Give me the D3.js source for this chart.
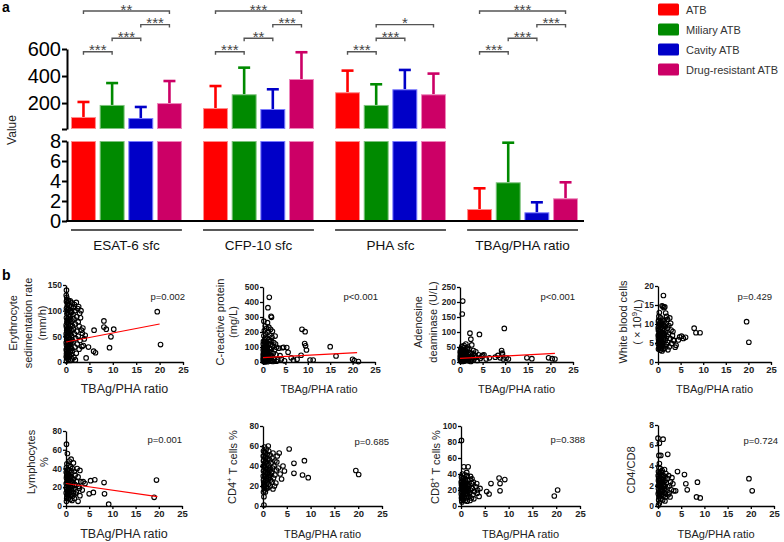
<!DOCTYPE html>
<html><head><meta charset="utf-8">
<script src="https://cdn.jsdelivr.net/npm/d3@7"></script>
<style>body{margin:0;background:#fff}svg{display:block;font-family:Arial,"Liberation Sans",sans-serif}</style>
</head><body><svg id="c" width="784" height="542"></svg>
<script>
// ---------- DATA: panel a ----------
const groups = ["ESAT-6 sfc","CFP-10 sfc","PHA sfc","TBAg/PHA ratio"];
const series = ["ATB","Miliary ATB","Cavity ATB","Drug-resistant ATB"];
const barMean = [[97,186,89,200],[163,265,156,378],[280,186,302,265],[1.2,3.87,0.87,2.27]];
const barErr  = [[208,348,171,363],[326,462,302,576],[440,339,445,418],[3.27,7.83,1.87,3.87]];
const upperTicks = [8,200,400,600];
const lowerTicks = [0,2,4,6,8];
// [group, fromSeries, toSeries, level, label]
const sigBrackets = [
 [0,0,3,0,"**"],[0,2,3,1,"***"],[0,1,2,2,"***"],[0,0,1,3,"***"],
 [1,0,3,0,"***"],[1,2,3,1,"***"],[1,1,2,2,"**"],[1,0,1,3,"***"],
 [2,1,3,1,"*"],[2,1,2,2,"***"],[2,0,1,3,"***"],
 [3,0,3,0,"***"],[3,2,3,1,"***"],[3,1,2,2,"***"],[3,0,1,3,"***"]
];

// ---------- DATA: panel b ----------
const xTicks = [0,5,10,15,20,25];
const esr = [[0.1,140],[0.2,121],[0.1,118],[0.5,120],[0.9,119],[1.3,115],[1.8,112],[2.2,116],[0.3,111],[0.7,110],[1.1,108],[1.6,106],[2.5,104],
[0.1,104],[0.4,101],[0.8,99],[1.2,97],[1.9,100],[2.9,95],[0.2,94],[0.6,92],[1.0,90],[1.5,93],[2.3,88],[3.1,86],
[0.1,86],[0.4,84],[0.8,82],[1.3,80],[1.7,84],[2.6,78],[0.2,77],[0.5,74],[0.9,72],[1.4,70],[2.0,74],[2.8,70],[3.6,66],
[0.1,68],[0.3,65],[0.7,63],[1.1,61],[1.6,64],[2.3,60],[3.3,62],[0.2,58],[0.5,56],[0.9,54],[1.2,51],[1.8,55],[2.6,50],
[0.1,50],[0.4,47],[0.8,45],[1.3,43],[2.1,46],[3.0,42],[3.9,45],[0.2,41],[0.6,38],[1.0,36],[1.5,39],[2.4,35],[3.4,30],
[0.1,33],[0.4,30],[0.8,28],[1.2,26],[1.9,29],[2.8,25],[0.2,24],[0.5,21],[0.9,19],[1.4,22],[2.2,17],
[0.1,16],[0.4,13],[0.7,11],[1.1,14],[1.7,9],[0.2,8],[0.5,5],[0.9,3],[1.3,6],[0.1,2],[2.0,4],
[3.7,32],[4.3,8],[4.8,29],[5.9,21],[6.3,18],[6.0,62],[8.1,80],[8.1,68],[8.6,64],[10.2,64],[9.6,49],[9.3,28],[19.5,98],[20.2,34],
[2.7,108],[3.2,100],[3.5,56],[4.1,52],
[0.05,130],[0.15,126],[0.35,115],[0.25,107],[0.55,103],[0.35,96],[0.65,88],[0.25,81],[0.45,78],[0.75,66],[0.15,61],[0.55,59],
[0.35,52],[0.65,48],[0.15,44],[0.45,36],[0.75,33],[0.25,28],[0.55,26],[0.15,20],[0.35,17],[0.65,14],[0.25,11],[0.45,9],
[1.0,78],[1.0,57],[1.0,40],[1.0,22],[1.0,97],[0.05,72],[0.05,55],[0.05,38],[0.05,24],[0.05,10]];
const crp = [[1.4,431],[1.1,362],[1.9,298],[1.8,305],[0.2,272],[1.0,262],[0.5,240],[1.3,232],[1.7,218],[0.8,225],[2.1,205],[2.7,173],
[0.3,210],[1.1,198],[0.6,188],[1.5,180],[2.0,165],[0.2,175],[0.9,160],[1.3,150],[0.4,148],[1.8,142],[2.4,130],[0.1,138],
[0.7,128],[1.1,120],[1.6,115],[0.3,118],[2.2,108],[3.0,98],[0.5,105],[0.9,98],[1.4,92],[0.2,90],[1.9,88],[2.6,82],[3.5,92],
[4.3,95],[4.6,98],[0.6,80],[1.0,75],[1.3,70],[0.3,68],[1.7,62],[2.3,58],[0.1,58],[0.8,55],[1.2,50],[0.4,46],[1.6,44],[2.0,40],
[2.9,48],[3.8,42],[0.2,38],[0.6,34],[1.0,30],[1.4,27],[0.3,24],[1.9,22],[2.5,18],[3.3,15],[4.1,20],[0.1,18],[0.5,15],[0.9,12],
[1.3,10],[0.2,8],[1.7,6],[2.2,4],[0.6,4],[1.0,2],[0.3,1],[3.0,5],[4.8,8],[5.3,96],[5.6,65],[6.3,28],[6.8,12],[7.6,18],[8.5,45],
[8.7,218],[9.4,202],[9.3,123],[9.5,108],[9.7,80],[10.5,13],[11.2,13],[15.0,102],[16.3,40],[20.0,18],[20.4,9],[21.3,3],
[0.4,92],[0.8,110],[1.5,135],[2.8,120],
[0.05,120],[0.15,100],[0.35,85],[0.25,72],[0.55,62],[0.45,50],[0.65,42],[0.15,35],[0.35,28],[0.75,22],[0.25,16],[0.55,10],
[0.05,6],[0.45,3],[0.85,40],[1.1,60],[1.2,35],[0.95,85],[0.05,80],[0.05,45],[0.05,25],[0.15,55],[0.7,16],[1.5,20],[0.35,135],[0.6,155]];
const ada = [[0.6,203],[0.5,160],[2.2,96],[2.4,76],[2.6,57],[4.3,92],[9.8,112],[1.3,60],[0.4,52],[0.9,48],[1.6,45],[0.2,44],[0.7,40],
[1.2,38],[2.0,42],[3.5,34],[0.3,35],[0.8,32],[1.1,30],[1.5,28],[2.3,31],[2.9,27],[0.1,28],[0.5,25],[0.9,23],[1.4,22],[1.9,25],
[2.6,20],[3.3,22],[4.1,24],[0.2,20],[0.6,18],[1.0,16],[1.3,18],[1.8,15],[2.2,17],[2.8,14],[3.6,16],[4.8,18],[5.3,24],[0.1,14],
[0.4,12],[0.8,10],[1.2,12],[1.6,9],[2.0,11],[2.5,8],[3.1,10],[0.3,8],[0.7,6],[1.1,5],[1.5,7],[0.2,4],[0.6,2],[1.0,3],[1.9,4],
[2.4,2],[3.8,5],[4.5,12],[5.8,10],[6.5,14],[7.8,16],[8.4,22],[9.2,38],[9.3,30],[9.4,27],[8.9,14],[9.6,10],[10.7,10],[10.2,13],
[14.8,14],[15.9,11],[19.6,14],[20.4,11],[21.0,10],[5.0,22],[3.0,38],[1.7,50],[0.9,55],
[0.05,35],[0.15,30],[0.35,26],[0.25,22],[0.55,20],[0.45,16],[0.65,14],[0.15,12],[0.35,10],[0.75,9],[0.25,6],[0.55,5],
[0.05,20],[0.45,30],[0.85,27],[1.1,24],[1.2,20],[0.95,13],[0.05,8],[0.15,3],[1.4,15],[1.6,18],[0.7,35],[0.3,42]];
const wbc = [[1.2,17.5],[0.9,14.8],[1.1,14.6],[1.3,14.3],[1.5,14.5],[0.3,13.0],[1.7,12.9],[2.1,11.2],[2.6,11.6],[0.2,12.0],[0.6,11.6],
[1.0,11.0],[1.4,10.8],[0.1,10.6],[0.5,10.3],[0.8,10.0],[1.2,9.8],[1.8,10.2],[2.4,9.6],[0.2,9.4],[0.6,9.1],[1.0,8.8],[1.5,8.6],
[2.1,8.9],[2.9,8.4],[0.1,8.3],[0.4,8.0],[0.8,7.8],[1.2,7.5],[1.7,7.8],[2.3,7.3],[3.2,7.0],[0.2,7.2],[0.5,6.9],[0.9,6.6],[1.4,6.4],
[2.0,6.8],[2.7,6.2],[3.5,5.6],[0.1,6.2],[0.4,5.9],[0.7,5.6],[1.1,5.4],[1.6,5.7],[2.2,5.2],[3.0,4.9],[0.2,5.1],[0.6,4.8],[1.0,4.5],
[1.3,4.2],[1.9,4.6],[2.5,4.0],[0.3,4.0],[0.7,3.7],[1.1,3.4],[1.5,3.6],[0.1,3.4],[0.5,3.1],[0.9,2.9],[2.2,3.2],[3.4,5.8],[3.8,3.9],
[4.0,4.4],[4.5,5.8],[4.8,6.6],[5.6,6.2],[6.1,6.5],[5.2,6.8],[8.0,8.9],[8.4,7.7],[9.3,7.7],[19.6,10.6],[20.1,5.2],[3.3,8.0],[2.8,10.2],[1.9,12.0],
[0.05,9.0],[0.15,8.6],[0.35,7.5],[0.25,6.6],[0.55,6.3],[0.45,5.3],[0.65,7.2],[0.15,5.6],[0.35,4.5],[0.75,4.2],[0.25,3.7],[0.55,8.5],
[0.05,7.0],[0.45,9.7],[0.85,9.3],[1.1,7.0],[1.2,6.0],[0.95,5.1],[0.05,4.8],[0.15,11.0],[1.4,7.2],[1.6,9.4],[0.7,10.6],[0.3,10.0]];
const lymph = [[0.1,66],[0.3,56],[0.2,45],[0.6,43],[1.0,42],[1.4,40],[0.1,41],[0.4,39],[0.8,38],[1.2,36],[1.8,37],[0.2,35],[0.5,33],
[0.9,32],[1.3,30],[2.0,33],[2.6,31],[0.1,30],[0.4,28],[0.7,27],[1.1,26],[1.6,28],[2.3,26],[0.2,25],[0.6,23],[1.0,22],[1.4,21],
[1.9,23],[2.7,21],[0.1,20],[0.5,18],[0.8,17],[1.2,16],[1.7,18],[2.2,15],[0.3,15],[0.6,13],[1.0,12],[1.5,11],[2.0,13],[0.2,10],
[0.5,8],[0.9,7],[1.3,6],[0.1,5],[1.8,8],[2.6,5],[3.0,38],[3.2,26],[3.7,26],[3.5,17],[4.1,24],[5.0,13],[5.9,14.5],[5.3,27],[6.2,28],
[8.2,25],[8.3,13],[9.2,2],[19.5,27.7],[19.0,9.3],[2.4,40],[3.0,11],[2.9,19],[1.6,46],[0.7,48],[1.1,50],
[0.05,36],[0.15,32],[0.35,30],[0.25,27],[0.55,25],[0.45,22],[0.65,20],[0.15,18],[0.35,16],[0.75,14],[0.25,12],[0.55,11],
[0.05,24],[0.45,35],[0.85,29],[1.1,31],[1.2,19],[0.95,24],[0.05,14],[0.15,8],[1.4,25],[1.6,14],[0.7,33],[0.3,38]];
const cd4 = [[0.3,59],[0.7,57],[1.2,55],[0.1,55],[0.5,53],[0.9,52],[1.5,51],[2.1,53],[3.4,53],[3.0,50],[0.2,50],[0.6,48],[1.0,47],
[1.4,46],[1.9,48],[2.5,45],[0.1,45],[0.4,43],[0.8,42],[1.2,41],[1.7,43],[2.3,40],[3.2,38],[0.2,40],[0.6,38],[1.0,37],[1.5,36],
[2.0,38],[2.8,36],[0.1,35],[0.5,33],[0.9,32],[1.3,31],[1.8,33],[2.5,31],[3.6,32],[0.3,30],[0.7,28],[1.1,27],[1.6,26],[2.2,28],
[0.1,26],[0.4,24],[0.8,23],[1.2,22],[1.9,24],[2.7,23],[0.2,21],[0.6,19],[1.0,18],[1.5,20],[2.1,17],[0.3,16],[0.1,14],[0.5,14],
[0.2,9.3],[0.2,1],[5.5,57],[6.5,42.7],[6.5,32.7],[8.7,45.3],[8.3,31],[9.5,28.3],[19.5,35.5],[20.1,31.5],[4.2,40],[4.5,35],
[3.9,27],[2.9,44],[1.1,60],[2.4,20],
[0.05,50],[0.15,46],[0.35,40],[0.25,36],[0.55,34],[0.45,30],[0.65,26],[0.15,24],[0.35,21],[0.75,18],[0.25,18],[0.55,45],
[0.05,40],[0.45,49],[0.85,36],[1.1,33],[1.2,29],[0.95,25],[0.05,30],[0.15,20],[1.4,38],[1.6,31],[0.7,44],[0.3,54]];
const cd8 = [[0.1,82],[0.6,49],[1.5,49],[0.3,40],[0.8,39],[1.3,38],[2.0,37],[0.1,36],[0.5,34],[0.9,33],[1.4,32],[1.9,33],[2.6,30],
[3.3,28],[0.2,31],[0.6,29],[1.0,28],[1.5,27],[2.2,28],[0.1,27],[0.4,25],[0.8,24],[1.2,23],[1.7,25],[2.4,22],[3.1,24],[0.2,22],
[0.6,20],[1.0,19],[1.4,18],[2.0,20],[2.8,18],[0.1,18],[0.5,16],[0.9,15],[1.3,14],[1.8,16],[2.5,14],[3.5,20],[0.3,13],[0.7,11],
[1.1,10],[1.6,12],[2.2,10],[0.1,10],[0.5,8],[0.9,7],[1.3,6],[0.2,5],[1.9,7],[2.7,9],[3.8,12],[4.0,22],[3.4,16],[8.2,28],[8.0,35],
[9.2,33],[8.2,19],[5.4,18],[5.9,15],[6.3,28],[19.6,12.5],[20.3,20],[2.3,34],[1.2,42],
[0.05,30],[0.15,26],[0.35,23],[0.25,20],[0.55,18],[0.45,14],[0.65,12],[0.15,12],[0.35,9],[0.75,26],[0.25,34],[0.55,31],
[0.05,22],[0.45,19],[0.85,21],[1.1,16],[1.2,26],[0.95,29],[0.05,15],[0.15,7],[1.4,22],[1.6,20],[0.7,35],[0.3,28]];
const cd4cd8 = [[0.0,6.7],[1.1,6.6],[0.3,6.2],[0.2,5.0],[0.6,5.0],[2.1,5.1],[0.2,3.8],[0.5,3.7],[0.9,3.5],[1.4,3.6],[0.1,3.4],[0.4,3.2],
[0.8,3.1],[1.2,3.0],[1.7,3.2],[2.3,3.0],[0.2,2.9],[0.6,2.7],[1.0,2.6],[1.5,2.5],[2.0,2.7],[2.7,2.4],[0.1,2.5],[0.4,2.3],[0.8,2.2],
[1.2,2.1],[1.8,2.3],[2.5,2.0],[3.2,2.2],[0.2,2.0],[0.6,1.9],[1.0,1.8],[1.4,1.7],[2.1,1.9],[2.9,1.6],[0.1,1.7],[0.5,1.5],[0.9,1.4],
[1.3,1.3],[1.7,1.5],[2.4,1.3],[3.4,1.5],[0.3,1.2],[0.7,1.1],[1.1,1.0],[1.6,0.9],[2.2,1.1],[0.2,0.9],[0.6,0.7],[1.0,0.6],[1.5,0.5],
[0.3,0.3],[0.1,0.1],[4.2,3.4],[5.7,3.1],[6.0,2.2],[6.3,1.6],[8.5,2.35],[8.3,0.9],[9.1,0.8],[19.6,2.7],[20.3,1.5],[3.8,1.5],[3.0,2.8],[2.6,0.9],
[0.05,3.0],[0.15,2.7],[0.35,2.5],[0.25,2.2],[0.55,2.0],[0.45,1.8],[0.65,1.6],[0.15,1.4],[0.35,1.0],[0.75,2.4],[0.25,3.3],[0.55,3.0],
[0.05,2.0],[0.45,1.2],[0.85,1.9],[1.1,1.5],[1.2,2.4],[0.95,2.9],[0.05,1.2],[0.15,0.6],[1.4,2.0],[1.6,1.2],[0.7,3.4],[0.3,4.2]];
// regression line endpoints [x, y]
const esrFit = [[0,39],[20,74]];
const crpFit = [[0,29],[21,62]];
const adaFit = [[0,12],[21,29]];
const lymphFit = [[0,24],[19.7,10]];
const pValues = ["p=0.002","p<0.001","p<0.001","p=0.429","p=0.001","p=0.685","p=0.388","p=0.724"];
const yMaxes = [150,500,250,20,80,80,100,8];
const yTickSets = [[0,50,100,150],[0,100,200,300,400,500],[0,50,100,150,200,250],[0,5,10,15,20],[0,20,40,60,80],[0,20,40,60,80],[0,20,40,60,80,100],[0,2,4,6,8]];
const yTitles = [["Erythrocyte","sedimentation rate","(mm/h)"],["C-reactive protein","(mg/L)"],["Adenosine","deaminase (U/L)"],
 ["White blood cells","( × 10^9/L)"],["Lymphocytes","%"],["CD4^+ T cells %"],["CD8^+ T cells %"],["CD4/CD8"]];
const xTitle = "TBAg/PHA ratio";

// ---------- LAYOUT ----------
const svg = d3.select("#c");
const colors = ["#ff0000","#008a00","#0000c8","#cc0066"];
const edges  = ["#ff8c8c","#7cc27c","#7b7bff","#ee86bb"];

svg.append("text").attr("x",2).attr("y",12).attr("font-size",14).attr("font-weight","bold").text("a");
svg.append("text").attr("x",2).attr("y",280).attr("font-size",14).attr("font-weight","bold").text("b");

const gx = d3.scaleBand().domain(groups).range([71,578]).paddingInner(0.16);
const sx = d3.scaleBand().domain(series).range([0,gx.bandwidth()]).paddingInner(0.13);
const yUp = d3.scaleLinear().domain([8,600]).range([129,49]);
const yLo = d3.scaleLinear().domain([0,8]).range([221,141]);

const pa = svg.append("g");
groups.forEach((g,gi)=>series.forEach((s,si)=>{
  const v = barMean[gi][si], e = barErr[gi][si];
  const cx = gx(g)+sx(s)+sx.bandwidth()/2;
  const yv = v>8?yUp(v):yLo(v), ye = e>8?yUp(e):yLo(e);
  pa.append("line").attr("x1",cx).attr("x2",cx).attr("y1",yv).attr("y2",ye).attr("stroke",colors[si]).attr("stroke-width",2.6);
  pa.append("line").attr("x1",cx-6).attr("x2",cx+6).attr("y1",ye).attr("y2",ye).attr("stroke",colors[si]).attr("stroke-width",2.6);
}));
groups.forEach((g,gi)=>series.forEach((s,si)=>{
  const v = barMean[gi][si];
  const x = gx(g)+sx(s), w = sx.bandwidth();
  const yl = yLo(Math.min(v,8));
  pa.append("rect").attr("x",x+0.5).attr("y",yl+0.5).attr("width",w-1).attr("height",221-yl-0.5)
    .attr("fill",colors[si]).attr("stroke",edges[si]).attr("stroke-width",1);
  if(v>8){
    const yu = yUp(v);
    pa.append("rect").attr("x",x+0.5).attr("y",yu+0.5).attr("width",w-1).attr("height",129-yu-1)
      .attr("fill",colors[si]).attr("stroke",edges[si]).attr("stroke-width",1);
  }
}));
function styleAxis(sel, fs, sw){
  sel.select(".domain").attr("stroke","#000").attr("stroke-width",sw);
  sel.selectAll(".tick line").attr("stroke","#000").attr("stroke-width",sw);
  sel.selectAll(".tick text").attr("font-size",fs).attr("fill","#000").attr("font-family",'Arial,"Liberation Sans",sans-serif');
}
const axU = pa.append("g").attr("transform","translate(67,0)")
  .call(d3.axisLeft(yUp).tickValues(upperTicks).tickFormat(d=>d===8?"":d).tickSize(5).tickSizeOuter(0).tickPadding(1));
styleAxis(axU,20,2);
const axL = pa.append("g").attr("transform","translate(67,0)")
  .call(d3.axisLeft(yLo).tickValues(lowerTicks).tickSize(5).tickSizeOuter(0).tickPadding(1));
styleAxis(axL,20,2);
pa.append("line").attr("x1",66).attr("x2",584).attr("y1",221).attr("y2",221).attr("stroke","#000").attr("stroke-width",2);
pa.append("text").attr("transform","translate(12,130) rotate(-90)").attr("text-anchor","middle").attr("dy","0.35em")
  .attr("font-size",12).attr("fill","#222").text("Value");
groups.forEach(g=>{
  pa.append("line").attr("x1",gx(g)).attr("x2",gx(g)+gx.bandwidth()).attr("y1",230).attr("y2",230).attr("stroke","#222").attr("stroke-width",1.5);
  pa.append("text").attr("x",gx(g)+gx.bandwidth()/2).attr("y",250).attr("text-anchor","middle").attr("font-size",13.5).attr("fill","#111").text(g);
});
sigBrackets.forEach(([gi,a,b,lev,lab])=>{
  const g = groups[gi];
  const xa = gx(g)+sx(series[a])+sx.bandwidth()/2, xb = gx(g)+sx(series[b])+sx.bandwidth()/2;
  const y = 11 + lev*13.6;
  pa.append("path").attr("d",`M${xa},${y+3}V${y}H${xb}V${y+3}`).attr("fill","none").attr("stroke","#555").attr("stroke-width",1.4);
  pa.append("text").attr("x",(xa+xb)/2).attr("y",y+3.5).attr("text-anchor","middle").attr("font-size",15).attr("fill","#444").text(lab);
});
series.forEach((s,i)=>{
  svg.append("rect").attr("x",658).attr("y",3.5+i*20).attr("width",21).attr("height",12).attr("rx",1.5).attr("fill",colors[i]);
  svg.append("text").attr("x",686).attr("y",13.5+i*20).attr("font-size",11).attr("fill","#333").text(s);
});

// ---------- panel b ----------
const datasets = [esr,crp,ada,wbc,lymph,cd4,cd8,cd4cd8];
const fits = [esrFit,crpFit,adaFit,null,lymphFit,null,null,null];
const layout = [
 {x0:66,x1:183,yT:285,yB:362,tx:[13,28,42],ty:323,px:185,py:300,xts:12.5,xty:393},
 {x0:263,x1:375,yT:287,yB:362,tx:[220,233],ty:322,px:378,py:300,xts:11,xty:393},
 {x0:460,x1:573,yT:287,yB:362,tx:[418,433],ty:322,px:575,py:300,xts:11,xty:393},
 {x0:658,x1:771,yT:286,yB:362,tx:[623,637],ty:322,px:772,py:300,xts:11,xty:393},
 {x0:66,x1:182,yT:431,yB:506,tx:[31,44],ty:462,px:182,py:443,xts:12.5,xty:538},
 {x0:263,x1:382,yT:426,yB:506,tx:[232],ty:467,px:389,py:445,xts:11,xty:538},
 {x0:461,x1:580,yT:426,yB:506,tx:[435],ty:467,px:585,py:443,xts:11,xty:538},
 {x0:658,x1:774,yT:425,yB:506,tx:[631],ty:470,px:778,py:444,xts:11,xty:538}
];
function addRich(textSel, str){
  const parts = str.split(/\^(\S)/);
  parts.forEach((p,k)=>{
    if(k%2===1){ textSel.append("tspan").attr("font-size","0.7em").attr("dy","-0.45em").text(p); }
    else if(p){ const t=textSel.append("tspan").text(p); if(k>0) t.attr("dy","0.45em"); }
  });
}
datasets.forEach((data,i)=>{
  const L = layout[i];
  const x = d3.scaleLinear().domain([0,25]).range([L.x0,L.x1]);
  const y = d3.scaleLinear().domain([0,yMaxes[i]]).range([L.yB,L.yT]);
  const g = svg.append("g");
  const ax = g.append("g").attr("transform",`translate(0,${L.yB})`)
    .call(d3.axisBottom(x).tickValues(xTicks).tickSize(3).tickSizeOuter(0).tickPadding(1.5));
  styleAxis(ax,9.5,1.3);
  ax.selectAll(".tick text").attr("font-weight","bold").attr("fill","#222");
  const ay = g.append("g").attr("transform",`translate(${L.x0},0)`)
    .call(d3.axisLeft(y).tickValues(yTickSets[i]).tickSize(3).tickSizeOuter(0).tickPadding(1));
  styleAxis(ay,8.5,1.3);
  ay.selectAll(".tick text").attr("font-weight","bold").attr("fill","#222");
  g.append("g").selectAll("circle").data(data).join("circle")
    .attr("cx",d=>x(d[0])).attr("cy",d=>y(d[1])).attr("r",2.3)
    .attr("fill","none").attr("stroke","#000").attr("stroke-width",1.1);
  if(fits[i]){
    g.append("line").attr("x1",x(fits[i][0][0])).attr("y1",y(fits[i][0][1]))
      .attr("x2",x(fits[i][1][0])).attr("y2",y(fits[i][1][1])).attr("stroke","#f00").attr("stroke-width",1.2);
  }
  g.append("text").attr("x",L.px).attr("y",L.py).attr("text-anchor","end").attr("font-size",9.5).attr("fill","#222").text(pValues[i]);
  g.append("text").attr("x",(L.x0+L.x1)/2).attr("y",L.xty).attr("text-anchor","middle").attr("font-size",L.xts).attr("fill","#222").text(xTitle);
  yTitles[i].forEach((line,k)=>{
    const t = g.append("text").attr("transform",`translate(${L.tx[k]},${L.ty}) rotate(-90)`)
      .attr("text-anchor","middle").attr("dy","0.35em").attr("font-size",11).attr("fill","#222");
    addRich(t,line);
  });
});
</script></body></html>
